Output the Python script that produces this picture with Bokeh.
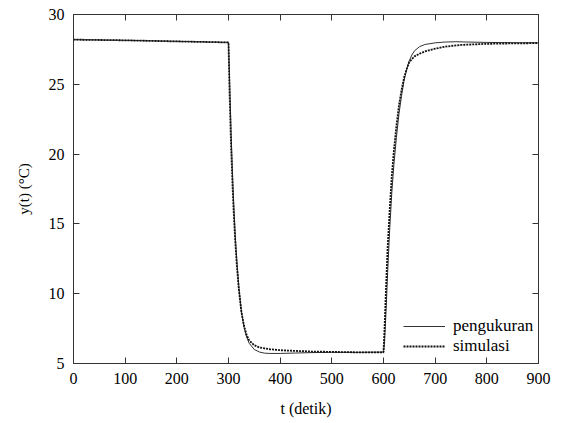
from bokeh.plotting import figure
from bokeh.models import LinearAxis, Range1d, Legend, LegendItem, FixedTicker
from bokeh.embed import file_html
from bokeh.resources import INLINE

# ---- data ----
t_peng = [0, 100, 200, 299, 300, 302, 305, 308, 310, 313, 316, 320, 325, 330, 335, 340,
          350, 360, 370, 380, 400, 430, 460, 500, 550, 599,
          600, 602, 605, 608, 612, 616, 620, 625, 630, 635, 640, 645, 650, 655, 660,
          670, 680, 700, 720, 740, 760, 800, 850, 900]
y_peng = [28.2, 28.15, 28.08, 28.0, 28.0, 25.5, 21.5, 18.3, 16.5, 14.2, 12.4, 10.5, 8.7, 7.6, 6.9, 6.45,
          6.0, 5.82, 5.74, 5.72, 5.72, 5.75, 5.78, 5.8, 5.8, 5.82,
          5.82, 6.5, 8.8, 11.5, 14.6, 17.2, 19.2, 21.2, 22.9, 24.2, 25.3, 26.1, 26.7, 27.1, 27.4,
          27.7, 27.85, 27.97, 28.03, 28.05, 28.03, 28.0, 27.98, 27.97]

t_sim = [0, 100, 200, 299, 300, 302, 305, 308, 310, 313, 316, 320, 325, 330, 335, 340,
         350, 360, 370, 380, 400, 430, 460, 500, 550, 599,
         600, 602, 605, 608, 612, 616, 620, 625, 630, 635, 640, 645, 650, 660,
         670, 680, 700, 720, 750, 800, 850, 900]
y_sim = [28.2, 28.15, 28.07, 28.0, 28.0, 24.5, 20.6, 17.6, 15.9, 13.8, 12.1, 10.3, 8.7, 7.7, 7.05, 6.65,
         6.3, 6.15, 6.08, 6.02, 5.95, 5.9, 5.86, 5.83, 5.8, 5.8,
         5.8, 7.5, 10.5, 13.3, 16.0, 18.4, 20.2, 22.0, 23.5, 24.6, 25.5, 26.1, 26.6, 27.0,
         27.2, 27.35, 27.55, 27.7, 27.82, 27.9, 27.93, 27.95]

x_ticks = [0, 100, 200, 300, 400, 500, 600, 700, 800, 900]
y_ticks = [5, 10, 15, 20, 25, 30]

FONT = "Liberation Serif"

p = figure(width=574, height=423, output_backend="svg", toolbar_location=None,
           x_range=Range1d(0, 900), y_range=Range1d(5, 30),
           min_border_left=73, min_border_right=36, min_border_top=14, min_border_bottom=60,
           x_axis_label="t (detik)", y_axis_label="y(t) (°C)")
p.grid.visible = False
p.outline_line_color = "#333333"
p.outline_line_width = 1
p.background_fill_color = "white"
p.border_fill_color = "white"

r1 = p.line(t_peng, y_peng, line_color="#333333", line_width=1)
r2 = p.line(t_sim, y_sim, line_color="#111111", line_width=1.8, line_dash="2 1")

def style_axis(ax, labels=True):
    ax.major_tick_in = 6
    ax.major_tick_out = 0
    ax.minor_tick_in = 0
    ax.minor_tick_out = 0
    ax.axis_line_color = "#333333"
    ax.major_tick_line_color = "#333333"
    ax.major_label_text_font = FONT
    ax.major_label_text_color = "black"
    ax.major_label_text_font_size = "16px"
    if labels:
        ax.major_label_standoff = 9
    else:
        ax.major_label_standoff = 0
        ax.major_label_text_font_size = "1px"
        ax.major_label_overrides = {t: " " for t in ax.ticker.ticks}

p.xaxis.ticker = FixedTicker(ticks=x_ticks)
p.yaxis.ticker = FixedTicker(ticks=y_ticks)
for ax in list(p.xaxis) + list(p.yaxis):
    style_axis(ax)
    ax.axis_label_text_font = FONT
    ax.axis_label_text_font_style = "normal"
    ax.axis_label_text_color = "black"
p.xaxis.axis_label_text_font_size = "16px"
p.xaxis.axis_label_standoff = 13
p.yaxis.axis_label_text_font_size = "15px"
p.yaxis.axis_label_standoff = 14

top = LinearAxis(ticker=FixedTicker(ticks=x_ticks))
style_axis(top, labels=False)
p.add_layout(top, "above")
right = LinearAxis(ticker=FixedTicker(ticks=y_ticks))
style_axis(right, labels=False)
p.add_layout(right, "right")

legend = Legend(items=[LegendItem(label="pengukuran", renderers=[r1]),
                       LegendItem(label="simulasi", renderers=[r2])],
                location=(330, 7))
legend.border_line_color = None
legend.background_fill_alpha = 0
legend.padding = 0
legend.margin = 0
legend.spacing = 0
legend.glyph_width = 42
legend.glyph_height = 20
legend.label_height = 20
legend.label_standoff = 8
legend.label_text_font = FONT
legend.label_text_font_size = "17px"
legend.label_text_color = "black"
p.add_layout(legend, "center")

open("out.html", "w").write(file_html(p, INLINE))
